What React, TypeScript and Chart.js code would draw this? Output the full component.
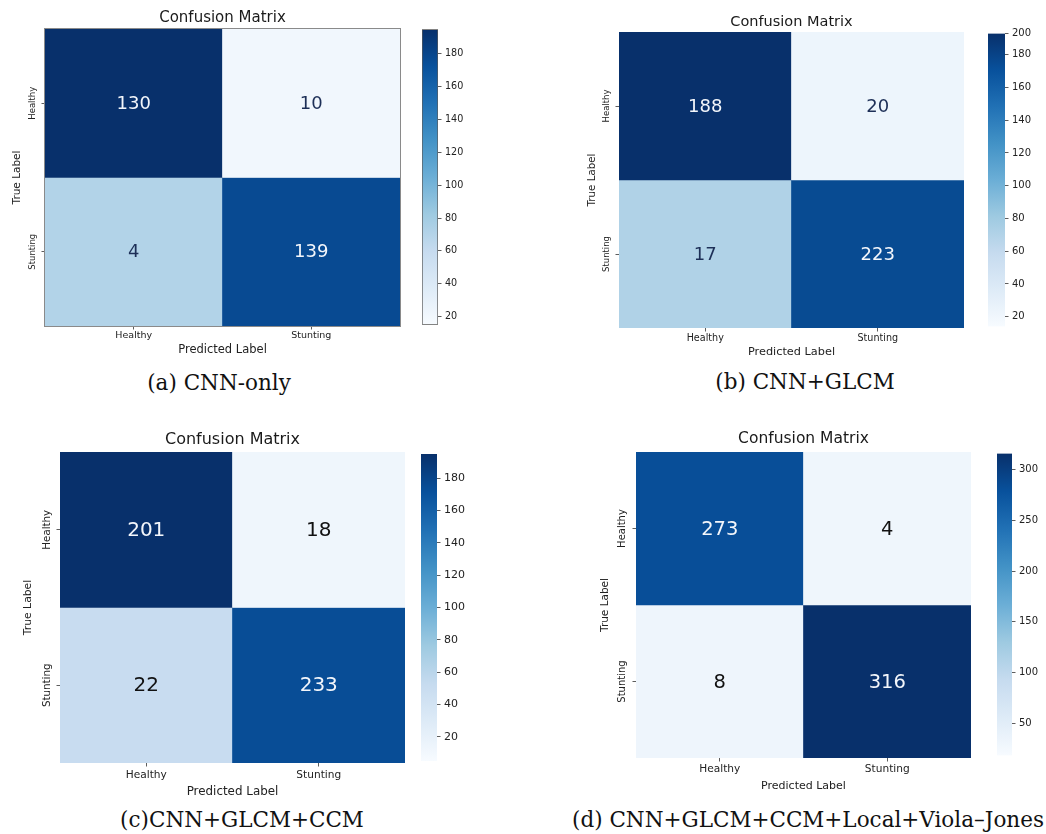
import React, { useEffect, useRef } from "react";
import { Chart, registerables } from "chart.js";
Chart.register(...registerables);

// ---------- data ----------
const predictedLabels = ["Healthy", "Stunting"];
const trueLabels = ["Healthy", "Stunting"];

// numbers printed in the cells, rows = true label, cols = predicted label
const countsA = [[130, 10], [4, 139]];
const countsB = [[188, 20], [17, 223]];
const countsC = [[201, 18], [22, 233]];
const countsD = [[273, 4], [8, 316]];

const shadeA = [[195, 20], [71, 177]];
const shadeB = [[193, 23], [71, 175]];
const shadeC = [[195, 13], [51, 174]];
const shadeD = [[282, 30], [31, 316]];

// colour-bar ranges
const rangeA = [15, 195];
const rangeB = [14, 193];
const rangeC = [5, 195];
const rangeD = [18, 316];

// colour-bar ticks
const cbTicksA = [20, 40, 60, 80, 100, 120, 140, 160, 180];
const cbLabelsA = ["20", "40", "60", "80", "100", "120", "140", "160", "180"];
const cbTicksB = [20, 40, 60, 80, 100, 120, 140, 160, 180, 193];
const cbLabelsB = ["20", "40", "60", "80", "100", "120", "140", "160", "180", "200"];
const cbTicksC = [20, 40, 60, 80, 100, 120, 140, 160, 180];
const cbLabelsC = ["20", "40", "60", "80", "100", "120", "140", "160", "180"];
const cbTicksD = [50, 100, 150, 200, 250, 300];
const cbLabelsD = ["50", "100", "150", "200", "250", "300"];

const chartTitle = "Confusion Matrix";
const xAxisTitle = "Predicted Label";
const yAxisTitle = "True Label";
const captions = [
  "(a) CNN-only",
  "(b) CNN+GLCM",
  "(c)CNN+GLCM+CCM",
  "(d) CNN+GLCM+CCM+Local+Viola\u2013Jones",
];

// ---------- colour map ----------
const BLUES = ["#f7fbff", "#deebf7", "#c6dbef", "#9ecae1", "#6baed6", "#4292c6", "#2171b5", "#08519c", "#08306b"];
function hexRgb(c: string) {
  return [parseInt(c.slice(1, 3), 16), parseInt(c.slice(3, 5), 16), parseInt(c.slice(5, 7), 16)];
}
function blues(t: number) {
  const tt = Math.max(0, Math.min(1, t));
  const p = tt * 8;
  const i = Math.min(7, Math.floor(p));
  const f = p - i;
  const a = hexRgb(BLUES[i]);
  const b = hexRgb(BLUES[i + 1]);
  const m = a.map((v, k) => Math.round(v + (b[k] - v) * f));
  return `rgb(${m[0]},${m[1]},${m[2]})`;
}

const FAMILY = '"DejaVu Sans", sans-serif';
const TEXT = "#222222";

type PanelCfg = {
  counts: number[][];
  shade: number[][];
  range: number[];
  cbTicks: number[];
  cbLabels: string[];
  heat: number[];
  top: number;
  aw: number;
  titleY: number;
  titleSize: number;
  yTickX: number;
  yTickSize: number;
  yTitleX: number;
  yTitleSize: number;
  xTickY: number;
  xTickSize: number;
  xTitleY: number;
  xTitleSize: number;
  annotSize: number;
  darkText: string;
  cb: number[];
  cbFont: number;
  cbBorder: boolean;
  frame: boolean;
  caption: string;
  capX: number;
  capY: number;
};

const panels: PanelCfg[] = [
  {
    counts: countsA, shade: shadeA, range: rangeA, cbTicks: cbTicksA, cbLabels: cbLabelsA,
    heat: [45, 29, 400, 326], top: 0, aw: 40,
    titleY: 18, titleSize: 15,
    yTickX: 33, yTickSize: 8.5, yTitleX: 17, yTitleSize: 10.5,
    xTickY: 336, xTickSize: 9.5, xTitleY: 350, xTitleSize: 11.5,
    annotSize: 18, darkText: "#1d2f57",
    cb: [422, 28, 438, 326], cbFont: 9.6, cbBorder: true, frame: true,
    caption: captions[0], capX: 219, capY: 383,
  },
  {
    counts: countsB, shade: shadeB, range: rangeB, cbTicks: cbTicksB, cbLabels: cbLabelsB,
    heat: [619, 32, 964, 328], top: 0, aw: 40,
    titleY: 22, titleSize: 14.5,
    yTickX: 607, yTickSize: 8.5, yTitleX: 592, yTitleSize: 10.3,
    xTickY: 338, xTickSize: 9.6, xTitleY: 352, xTitleSize: 11.3,
    annotSize: 18, darkText: "#1d2f57",
    cb: [988, 32, 1005, 328], cbFont: 10, cbBorder: false, frame: false,
    caption: captions[1], capX: 805, capY: 382,
  },
  {
    counts: countsC, shade: shadeC, range: rangeC, cbTicks: cbTicksC, cbLabels: cbLabelsC,
    heat: [60, 452, 405, 763], top: 420, aw: 50,
    titleY: 440, titleSize: 16,
    yTickX: 47, yTickSize: 10.3, yTitleX: 28, yTitleSize: 10.8,
    xTickY: 775, xTickSize: 10.6, xTitleY: 792, xTitleSize: 11.9,
    annotSize: 20, darkText: "#111111",
    cb: [421, 452, 437, 763], cbFont: 11, cbBorder: false, frame: false,
    caption: captions[2], capX: 242, capY: 820,
  },
  {
    counts: countsD, shade: shadeD, range: rangeD, cbTicks: cbTicksD, cbLabels: cbLabelsD,
    heat: [636, 452, 971, 758], top: 420, aw: 40,
    titleY: 439, titleSize: 15.5,
    yTickX: 622, yTickSize: 10, yTitleX: 605, yTitleSize: 10.5,
    xTickY: 769, xTickSize: 10.6, xTitleY: 786, xTitleSize: 11,
    annotSize: 19.5, darkText: "#111111",
    cb: [997, 452, 1012, 757], cbFont: 10, cbBorder: false, frame: false,
    caption: captions[3], capX: 808, capY: 820,
  },
];

const TL = 3.5;

function HeatMap({ cfg }: { cfg: PanelCfg }) {
  const ref = useRef<HTMLCanvasElement>(null);
  const [hx0, hy0, hx1, hy1] = cfg.heat;
  const left = hx0 - cfg.aw;
  const width = hx1 - hx0 + 2 * cfg.aw;
  const height = Math.round(cfg.xTitleY + 0.6 * cfg.xTitleSize + 3 - cfg.top);

  useEffect(() => {
    if (!ref.current) return;
    const mctx = document.createElement("canvas").getContext("2d")!;
    mctx.font = `${cfg.yTickSize}px ${FAMILY}`;
    const widest = Math.max(...trueLabels.map((l) => mctx.measureText(l).width));
    const yTickPad = hx0 - TL - cfg.yTickX - widest / 2;
    const xTickPad = cfg.xTickY - hy1 - TL - 0.6 * cfg.xTickSize;
    const yTitlePad = cfg.yTitleX - left - 0.6 * cfg.yTitleSize;
    const titlePadTop = cfg.titleY - cfg.top - 0.6 * cfg.titleSize;
    const titlePadBottom = hy0 - cfg.top - 1.2 * cfg.titleSize - titlePadTop;
    const xh = height - (hy1 - cfg.top);
    const [mn, mx] = cfg.range;
    const norm = (v: number) => (v - mn) / (mx - mn);

    const annot = {
      id: "annot",
      afterDatasetsDraw(chart: any) {
        const ctx = chart.ctx;
        ctx.save();
        ctx.font = `${cfg.annotSize}px ${FAMILY}`;
        ctx.textAlign = "center";
        ctx.textBaseline = "middle";
        chart.data.datasets.forEach((_ds: any, r: number) => {
          const meta = chart.getDatasetMeta(r);
          meta.data.forEach((el: any, c: number) => {
            const p = el.getProps(["x", "y", "base"], true);
            ctx.fillStyle = norm(cfg.shade[r][c]) > 0.5 ? "#f3f6fb" : cfg.darkText;
            ctx.fillText(String(cfg.counts[r][c]), p.x, (p.y + p.base) / 2 + 1);
          });
        });
        if (cfg.frame) {
          const a = chart.chartArea;
          ctx.strokeStyle = "#8a8a8a";
          ctx.lineWidth = 1;
          ctx.strokeRect(a.left - 0.5, a.top - 0.5, a.right - a.left + 1, a.bottom - a.top + 1);
        }
        ctx.restore();
      },
    };

    const chart = new Chart(ref.current, {
      type: "bar",
      data: {
        labels: predictedLabels,
        datasets: trueLabels.map((lab, r) => ({
          label: lab,
          data: predictedLabels.map(() => [r, r + 1]),
          backgroundColor: cfg.shade[r].map((v) => blues(norm(v))),
          borderWidth: 0,
          grouped: false,
          barPercentage: 1,
          categoryPercentage: 1,
        })) as any,
      },
      options: {
        responsive: false,
        animation: false,
        layout: { padding: 0 },
        plugins: {
          legend: { display: false },
          tooltip: { enabled: false },
          title: {
            display: true,
            text: chartTitle,
            color: "#1a1a1a",
            font: { family: FAMILY, size: cfg.titleSize, weight: "normal", lineHeight: 1.2 },
            padding: { top: titlePadTop, bottom: Math.max(0, titlePadBottom) },
          },
        },
        scales: {
          x: {
            type: "category",
            offset: true,
            grid: { display: true, offset: false, drawOnChartArea: false, drawTicks: true, tickLength: TL, tickWidth: 0.8, color: "#333", tickColor: "#333" },
            border: { display: false },
            ticks: { font: { family: FAMILY, size: cfg.xTickSize }, color: TEXT, padding: xTickPad, maxRotation: 0, minRotation: 0, autoSkip: false },
            title: { display: true, text: xAxisTitle, color: TEXT, font: { family: FAMILY, size: cfg.xTitleSize, lineHeight: 1.2 }, padding: { top: 0, bottom: 3 } },
            afterFit: (s: any) => { s.height = xh; },
          },
          y: {
            type: "linear",
            min: 0,
            max: trueLabels.length,
            reverse: true,
            afterBuildTicks: (s: any) => { s.ticks = trueLabels.map((_l, i) => ({ value: i + 0.5 })); },
            grid: { display: true, drawOnChartArea: false, drawTicks: true, tickLength: TL, tickWidth: 0.8, color: "#333", tickColor: "#333" },
            border: { display: false },
            ticks: {
              callback: (v: any) => trueLabels[Math.floor(Number(v))],
              font: { family: FAMILY, size: cfg.yTickSize },
              color: TEXT,
              minRotation: 90,
              maxRotation: 90,
              crossAlign: "center",
              padding: yTickPad,
              autoSkip: false,
            },
            title: { display: true, text: yAxisTitle, color: TEXT, font: { family: FAMILY, size: cfg.yTitleSize, lineHeight: 1.2 }, padding: { top: yTitlePad, bottom: 0 } },
            afterFit: (s: any) => { s.width = cfg.aw; },
          },
          // empty spacer on the right so the title centres over the matrix
          yRight: {
            type: "linear",
            position: "right",
            display: true,
            min: 0,
            max: 1,
            grid: { display: false },
            border: { display: false },
            ticks: { display: false },
            afterFit: (s: any) => { s.width = cfg.aw; },
          },
        } as any,
      },
      plugins: [annot],
    } as any);
    return () => chart.destroy();
  }, []);

  return (
    <canvas
      ref={ref}
      width={width}
      height={height}
      style={{ position: "absolute", left, top: cfg.top, width, height }}
    />
  );
}

function ColorBar({ cfg }: { cfg: PanelCfg }) {
  const ref = useRef<HTMLCanvasElement>(null);
  const [cx0, cy0, cx1, cy1] = cfg.cb;
  const axisW = 32;
  const pad = 8;
  const width = cx1 - cx0 + axisW;
  const height = cy1 - cy0 + 2 * pad;

  useEffect(() => {
    if (!ref.current) return;
    const [mn, mx] = cfg.range;
    const chart = new Chart(ref.current, {
      type: "bar",
      data: {
        labels: [""],
        datasets: [
          {
            data: [[mn, mx]],
            backgroundColor: (ctx: any) => {
              const ch = ctx.chart;
              const a = ch.chartArea;
              if (!a) return BLUES[4];
              const g = ch.ctx.createLinearGradient(0, a.bottom, 0, a.top);
              BLUES.forEach((c, i) => g.addColorStop(i / (BLUES.length - 1), c));
              return g;
            },
            borderWidth: cfg.cbBorder ? 1 : 0,
            borderColor: "#5a5a5a",
            borderSkipped: false,
            barPercentage: 1,
            categoryPercentage: 1,
          },
        ] as any,
      },
      options: {
        responsive: false,
        animation: false,
        layout: { padding: { top: pad, bottom: pad, left: 0, right: 0 } },
        plugins: { legend: { display: false }, tooltip: { enabled: false } },
        scales: {
          x: { display: false },
          y: {
            position: "right",
            min: mn,
            max: mx,
            afterBuildTicks: (s: any) => { s.ticks = cfg.cbTicks.map((v) => ({ value: v })); },
            ticks: {
              callback: (_v: any, i: number) => cfg.cbLabels[i],
              font: { family: FAMILY, size: cfg.cbFont },
              color: TEXT,
              padding: 3.5,
              autoSkip: false,
            },
            grid: { display: true, drawOnChartArea: false, drawTicks: true, tickLength: TL, tickWidth: 0.8, color: "#333", tickColor: "#333" },
            border: { display: false },
            afterFit: (s: any) => { s.width = axisW; },
          },
        } as any,
      },
    } as any);
    return () => chart.destroy();
  }, []);

  return (
    <canvas
      ref={ref}
      width={width}
      height={height}
      style={{ position: "absolute", left: cx0, top: cy0 - pad, width, height }}
    />
  );
}

function Caption({ cfg }: { cfg: PanelCfg }) {
  return (
    <div
      style={{
        position: "absolute",
        left: cfg.capX - 300,
        top: cfg.capY - 14,
        width: 600,
        height: 28,
        lineHeight: "28px",
        textAlign: "center",
        fontFamily: '"DejaVu Serif", serif',
        fontSize: 21.5,
        color: "#111",
        whiteSpace: "nowrap",
      }}
    >
      {cfg.caption}
    </div>
  );
}

export default function App() {
  return (
    <div
      style={{
        position: "absolute",
        left: 0,
        top: 0,
        width: 1046,
        height: 834,
        background: "#ffffff",
        overflow: "hidden",
      }}
    >
      {panels.map((p, i) => (
        <React.Fragment key={i}>
          <HeatMap cfg={p} />
          <ColorBar cfg={p} />
          <Caption cfg={p} />
        </React.Fragment>
      ))}
    </div>
  );
}
